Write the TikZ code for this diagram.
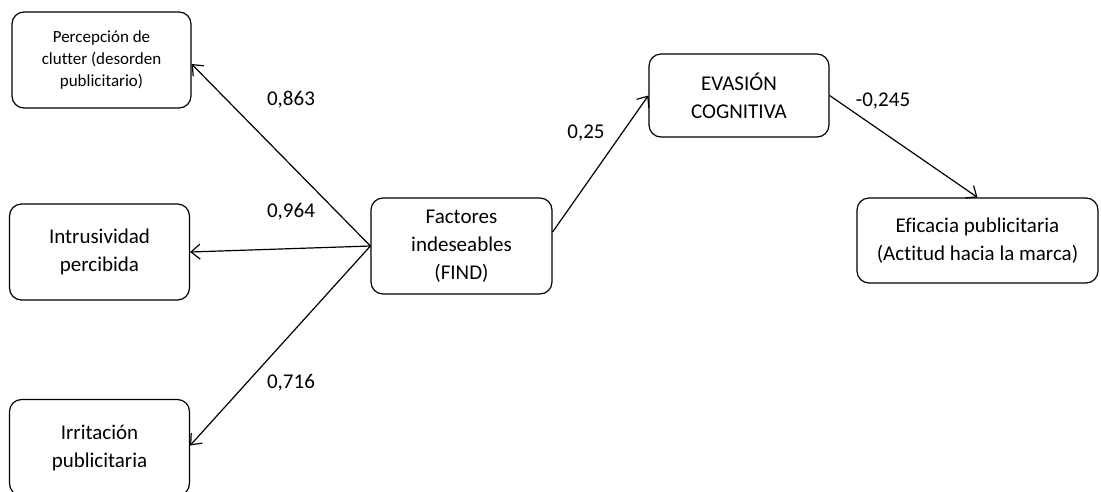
\documentclass[tikz,border=0pt]{standalone}
\usepackage{fontspec}
\setmainfont[Ligatures=NoCommon]{Carlito}
\usetikzlibrary{arrows.meta}

\tikzset{
  box/.style={draw=black, line width=1.2pt, rounded corners=12pt, align=center,
    minimum width=180pt, minimum height=96pt, inner sep=2pt,
    font=\fontsize{21}{28}\selectfont},
  coef/.style={font=\fontsize{21}{28}\selectfont},
  path/.style={line width=1.2pt, -{Straight Barb[length=9pt,width=15pt,line width=1.2pt]}}
}

\begin{document}
\begin{tikzpicture}[x=1pt,y=1pt]
\useasboundingbox (0,0) rectangle (1101,-491);

\node[box, minimum width=179pt, font=\fontsize{17}{22}\selectfont](perc) at (101.5,-60) {Percepción de\\clutter (desorden\\publicitario)};
\node[box](intr) at (99.5,-252) {Intrusividad\\percibida};
\node[box](irri) at (99.5,-447.5) {Irritación\\publicitaria};
\node[box, minimum width=181pt](find) at (461.5,-246) {Factores\\indeseables\\(FIND)};
\node[box, minimum height=83pt](evas) at (739,-95.5) {EVASIÓN\\COGNITIVA};
\node[box, minimum width=241pt, minimum height=85pt](efic) at (977.5,-240.5) {Eficacia publicitaria\\(Actitud hacia la marca)};

\node[coef](c1) at (291,-100) {0,863};
\node[coef](c2) at (291,-212) {0,964};
\node[coef](c3) at (291,-383) {0,716};
\node[coef](c4) at (586,-133) {0,25};
\node[coef](c5) at (883,-101) {-0,245};

\draw[path] (find.west)--([yshift=-4pt]perc.east);
\draw[path] (find.west)--(intr.east);
\draw[path] (find.west)--([yshift=2pt]irri.east);
\draw[path] ([yshift=14pt]find.east)--(evas.west);
\draw[path] (evas.east)--(efic.north);

\end{tikzpicture}
\end{document}
